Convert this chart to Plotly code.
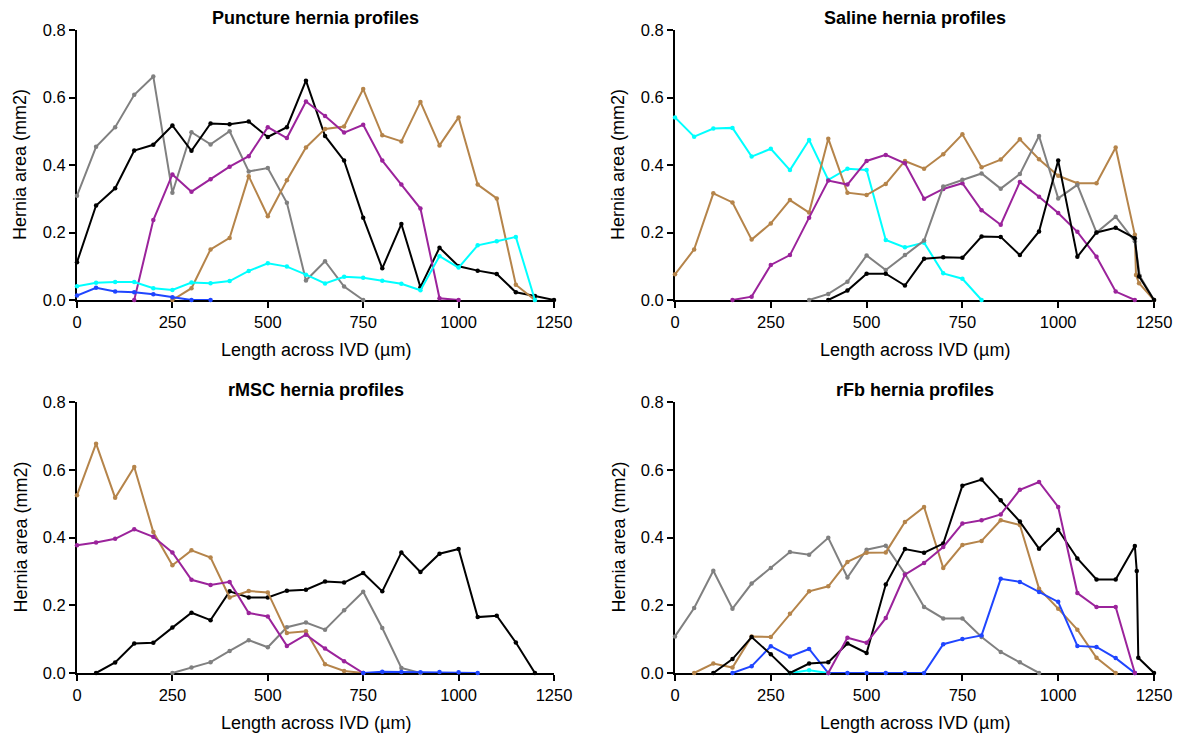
import plotly.graph_objects as go

# ---------------- data ----------------
# Panel 1: Puncture
p_gray_x = [0, 50, 100, 150, 200, 250, 300, 350, 400, 450, 500, 550, 600, 650, 700, 750]
p_gray_y = [0.309, 0.454, 0.512, 0.608, 0.662, 0.318, 0.497, 0.461, 0.500, 0.381, 0.391, 0.288, 0.058, 0.115, 0.040, 0.0]
p_black_x = [0, 50, 100, 150, 200, 250, 300, 350, 400, 450, 500, 550, 600, 650, 700, 750, 800, 850, 900, 950, 1000, 1050, 1100, 1150, 1200, 1250]
p_black_y = [0.112, 0.280, 0.331, 0.443, 0.460, 0.517, 0.442, 0.523, 0.521, 0.529, 0.483, 0.512, 0.650, 0.486, 0.413, 0.244, 0.094, 0.225, 0.038, 0.155, 0.100, 0.087, 0.077, 0.023, 0.012, 0.0]
p_purple_x = [150, 200, 250, 300, 350, 400, 450, 500, 550, 600, 650, 700, 750, 800, 850, 900, 950, 1000]
p_purple_y = [0.0, 0.237, 0.372, 0.321, 0.358, 0.395, 0.426, 0.512, 0.480, 0.588, 0.545, 0.496, 0.519, 0.413, 0.342, 0.271, 0.005, 0.0]
p_brown_x = [250, 300, 350, 400, 450, 500, 550, 600, 650, 700, 750, 800, 850, 900, 950, 1000, 1050, 1100, 1150, 1200]
p_brown_y = [0.0, 0.035, 0.150, 0.184, 0.367, 0.248, 0.355, 0.452, 0.507, 0.514, 0.625, 0.488, 0.470, 0.587, 0.458, 0.541, 0.342, 0.301, 0.045, 0.0]
p_cyan_x = [0, 50, 100, 150, 200, 250, 300, 350, 400, 450, 500, 550, 600, 650, 700, 750, 800, 850, 900, 950, 1000, 1050, 1100, 1150, 1200]
p_cyan_y = [0.041, 0.051, 0.053, 0.053, 0.035, 0.030, 0.052, 0.050, 0.056, 0.086, 0.109, 0.099, 0.075, 0.049, 0.069, 0.066, 0.057, 0.048, 0.029, 0.130, 0.096, 0.162, 0.174, 0.187, 0.0]
p_blue_x = [0, 50, 100, 150, 200, 250, 300, 350]
p_blue_y = [0.013, 0.036, 0.025, 0.023, 0.017, 0.008, 0.0, 0.0]

# Panel 2: Saline
s_cyan_x = [0, 50, 100, 150, 200, 250, 300, 350, 400, 450, 500, 550, 600, 650, 700, 750, 800]
s_cyan_y = [0.541, 0.484, 0.508, 0.510, 0.425, 0.448, 0.385, 0.474, 0.356, 0.389, 0.385, 0.178, 0.156, 0.170, 0.079, 0.063, 0.0]
s_brown_x = [0, 50, 100, 150, 200, 250, 300, 350, 400, 450, 500, 550, 600, 650, 700, 750, 800, 850, 900, 950, 1000, 1050, 1100, 1150, 1200, 1203, 1211, 1250]
s_brown_y = [0.076, 0.150, 0.316, 0.289, 0.179, 0.227, 0.296, 0.259, 0.478, 0.318, 0.311, 0.344, 0.412, 0.389, 0.432, 0.491, 0.393, 0.416, 0.476, 0.417, 0.368, 0.346, 0.346, 0.452, 0.193, 0.074, 0.050, 0.0]
s_purple_x = [150, 200, 250, 300, 350, 400, 450, 500, 550, 600, 650, 700, 750, 800, 850, 900, 950, 1000, 1050, 1100, 1150, 1200]
s_purple_y = [0.0, 0.010, 0.104, 0.133, 0.244, 0.354, 0.342, 0.412, 0.430, 0.405, 0.300, 0.329, 0.346, 0.266, 0.223, 0.350, 0.306, 0.258, 0.202, 0.128, 0.025, 0.0]
s_gray_x = [350, 400, 450, 500, 550, 600, 650, 700, 750, 800, 850, 900, 950, 1000, 1050, 1100, 1150, 1200, 1213, 1250]
s_gray_y = [0.0, 0.018, 0.054, 0.132, 0.089, 0.133, 0.176, 0.336, 0.356, 0.375, 0.330, 0.373, 0.486, 0.301, 0.341, 0.200, 0.247, 0.174, 0.071, 0.0]
s_black_x = [400, 450, 500, 550, 600, 650, 700, 750, 800, 850, 900, 950, 1000, 1050, 1100, 1150, 1200, 1211, 1250]
s_black_y = [0.0, 0.028, 0.078, 0.078, 0.043, 0.122, 0.127, 0.125, 0.188, 0.187, 0.133, 0.203, 0.413, 0.128, 0.200, 0.214, 0.183, 0.070, 0.0]

# Panel 3: rMSC
m_brown_x = [0, 50, 100, 150, 200, 250, 300, 350, 400, 450, 500, 550, 600, 650, 700, 750]
m_brown_y = [0.525, 0.677, 0.517, 0.608, 0.416, 0.318, 0.362, 0.341, 0.223, 0.242, 0.238, 0.118, 0.123, 0.026, 0.006, 0.0]
m_purple_x = [0, 50, 100, 150, 200, 250, 300, 350, 400, 450, 500, 550, 600, 650, 700, 750]
m_purple_y = [0.377, 0.385, 0.396, 0.424, 0.402, 0.356, 0.275, 0.260, 0.269, 0.177, 0.167, 0.080, 0.113, 0.072, 0.035, 0.0]
m_black_x = [50, 100, 150, 200, 250, 300, 350, 400, 450, 500, 550, 600, 650, 700, 750, 800, 850, 900, 950, 1000, 1050, 1100, 1150, 1200]
m_black_y = [0.0, 0.031, 0.087, 0.089, 0.134, 0.178, 0.156, 0.241, 0.223, 0.223, 0.243, 0.246, 0.270, 0.267, 0.295, 0.241, 0.356, 0.298, 0.352, 0.366, 0.165, 0.169, 0.090, 0.0]
m_gray_x = [250, 300, 350, 400, 450, 500, 550, 600, 650, 700, 750, 800, 850, 900]
m_gray_y = [0.0, 0.016, 0.032, 0.065, 0.097, 0.076, 0.135, 0.149, 0.128, 0.185, 0.240, 0.133, 0.015, 0.0]
m_blue_x = [750, 800, 850, 900, 950, 1000, 1050]
m_blue_y = [0.0, 0.004, 0.003, 0.002, 0.003, 0.002, 0.0]

# Panel 4: rFb
f_gray_x = [0, 50, 100, 150, 200, 250, 300, 350, 400, 450, 500, 550, 600, 650, 700, 750, 800, 850, 900, 950]
f_gray_y = [0.108, 0.192, 0.302, 0.190, 0.264, 0.310, 0.357, 0.349, 0.399, 0.282, 0.364, 0.376, 0.293, 0.195, 0.161, 0.161, 0.106, 0.062, 0.032, 0.0]
f_black_x = [100, 150, 200, 250, 300, 350, 400, 450, 500, 550, 600, 650, 700, 750, 800, 850, 900, 950, 1000, 1050, 1100, 1150, 1200, 1205, 1209, 1250]
f_black_y = [0.0, 0.041, 0.106, 0.055, 0.0, 0.028, 0.032, 0.087, 0.059, 0.261, 0.366, 0.355, 0.382, 0.553, 0.571, 0.510, 0.447, 0.367, 0.423, 0.338, 0.276, 0.276, 0.375, 0.301, 0.045, 0.0]
f_brown_x = [50, 100, 150, 200, 250, 300, 350, 400, 450, 500, 550, 600, 650, 700, 750, 800, 850, 900, 950, 1000, 1050, 1100, 1150]
f_brown_y = [0.0, 0.028, 0.016, 0.108, 0.106, 0.175, 0.241, 0.256, 0.328, 0.355, 0.356, 0.446, 0.490, 0.310, 0.378, 0.390, 0.451, 0.437, 0.249, 0.190, 0.128, 0.045, 0.0]
f_purple_x = [400, 450, 500, 550, 600, 650, 700, 750, 800, 850, 900, 950, 1000, 1050, 1100, 1150, 1200]
f_purple_y = [0.0, 0.104, 0.089, 0.162, 0.290, 0.325, 0.372, 0.441, 0.451, 0.468, 0.541, 0.564, 0.490, 0.236, 0.195, 0.195, 0.0]
f_blue_x = [150, 200, 250, 300, 350, 400, 450, 500, 550, 600, 650, 700, 750, 800, 850, 900, 950, 1000, 1050, 1100, 1150, 1200]
f_blue_y = [0.0, 0.020, 0.079, 0.049, 0.071, 0.0, 0.0, 0.0, 0.0, 0.0, 0.0, 0.085, 0.100, 0.111, 0.278, 0.269, 0.239, 0.210, 0.080, 0.077, 0.044, 0.0]
f_cyan_x = [300, 350, 400]
f_cyan_y = [0.0, 0.008, 0.0]

titles = ["Puncture hernia profiles", "Saline hernia profiles", "rMSC hernia profiles", "rFb hernia profiles"]
x_title = "Length across IVD (µm)"
y_title = "Hernia area (mm2)"
x_ticks = [0, 250, 500, 750, 1000, 1250]
y_ticks = [0.0, 0.2, 0.4, 0.6, 0.8]

GRAY = "#808080"
BLACK = "#000000"
PURPLE = "#9b239b"
BROWN = "#b5844a"
CYAN = "#00ffff"
BLUE = "#1f45ff"

panels = [
    [(p_gray_x, p_gray_y, GRAY), (p_black_x, p_black_y, BLACK), (p_brown_x, p_brown_y, BROWN),
     (p_purple_x, p_purple_y, PURPLE), (p_cyan_x, p_cyan_y, CYAN), (p_blue_x, p_blue_y, BLUE)],
    [(s_cyan_x, s_cyan_y, CYAN), (s_brown_x, s_brown_y, BROWN), (s_purple_x, s_purple_y, PURPLE),
     (s_gray_x, s_gray_y, GRAY), (s_black_x, s_black_y, BLACK)],
    [(m_gray_x, m_gray_y, GRAY), (m_black_x, m_black_y, BLACK), (m_brown_x, m_brown_y, BROWN),
     (m_purple_x, m_purple_y, PURPLE), (m_blue_x, m_blue_y, BLUE)],
    [(f_gray_x, f_gray_y, GRAY), (f_brown_x, f_brown_y, BROWN), (f_blue_x, f_blue_y, BLUE),
     (f_cyan_x, f_cyan_y, CYAN), (f_black_x, f_black_y, BLACK), (f_purple_x, f_purple_y, PURPLE)],
]

W, H = 1181, 733
# pixel boxes (left, right, top, bottom)
boxes = [(77, 554, 30, 300), (675, 1154, 30, 300), (77, 554, 402, 673), (675, 1154, 402, 673)]

FONT = "Liberation Sans, Arial, Helvetica, sans-serif"
fig = go.Figure()
layout = dict(
    width=W, height=H, margin=dict(l=0, r=0, t=0, b=0, autoexpand=False),
    paper_bgcolor="white", plot_bgcolor="white", showlegend=False,
    font=dict(family=FONT, color="black"),
)
annotations = []
for i, (series, box) in enumerate(zip(panels, boxes)):
    l, r, t, b = box
    xa = "x" if i == 0 else f"x{i+1}"
    ya = "y" if i == 0 else f"y{i+1}"
    for xs, ys, col in series:
        fig.add_trace(go.Scatter(
            x=xs, y=ys, mode="lines+markers", xaxis=xa, yaxis=ya,
            line=dict(color=col, width=2),
            marker=dict(color=col, size=4.5),
            cliponaxis=False, hoverinfo="x+y",
        ))
    axcommon = dict(showline=True, linecolor="black", linewidth=2, ticks="outside",
                    ticklen=6, tickwidth=2, tickcolor="black", showgrid=False,
                    zeroline=False, layer="below traces", automargin=False,
                    tickfont=dict(size=16.5, family=FONT, color="black"))
    layout["xaxis" + ("" if i == 0 else str(i + 1))] = dict(
        axcommon, domain=[l / W, r / W], range=[0, 1250], tickvals=x_ticks,
        anchor=ya, fixedrange=True)
    layout["yaxis" + ("" if i == 0 else str(i + 1))] = dict(
        axcommon, domain=[(H - b) / H, (H - t) / H], range=[0, 0.8], tickvals=y_ticks,
        tickformat=".1f", anchor=xa, fixedrange=True)
    cx = (l + r) / 2 / W
    annotations.append(dict(text=f"<b>{titles[i]}</b>", x=cx, y=(H - (t - 12)) / H,
                            xref="paper", yref="paper", showarrow=False,
                            font=dict(size=18, family=FONT, color="black"),
                            xanchor="center", yanchor="middle"))
    annotations.append(dict(text=x_title, x=cx, y=(H - (b + 50)) / H,
                            xref="paper", yref="paper", showarrow=False,
                            font=dict(size=18, family=FONT, color="black"),
                            xanchor="center", yanchor="middle"))
    annotations.append(dict(text=y_title, x=(l - 57) / W, y=(H - (t + b) / 2) / H,
                            xref="paper", yref="paper", showarrow=False, textangle=-90,
                            font=dict(size=18, family=FONT, color="black"),
                            xanchor="center", yanchor="middle"))
layout["annotations"] = annotations
fig.update_layout(**layout)
fig.write_html("out.html", config={"displayModeBar": False},
               post_script="document.body.style.margin='0px';document.body.style.overflow='hidden';")
